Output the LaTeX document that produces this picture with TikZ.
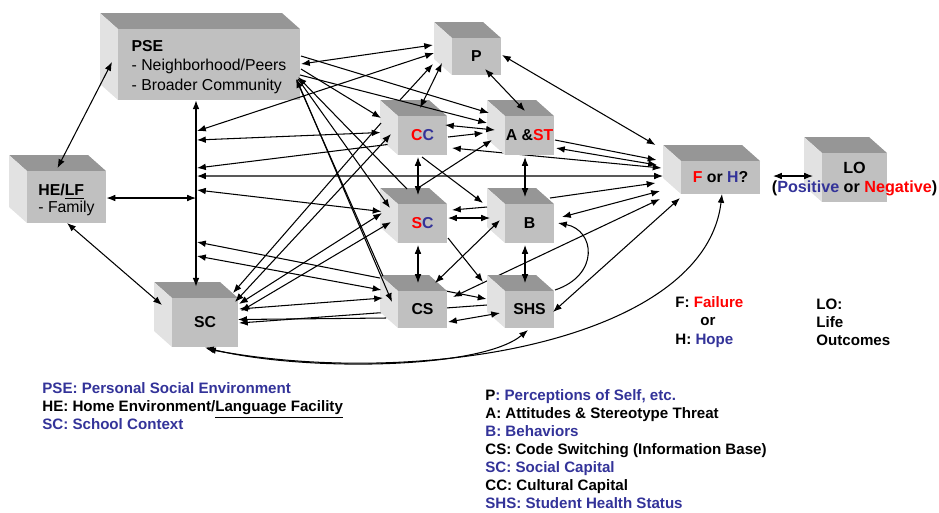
\documentclass[tikz,border=0pt]{standalone}
\usepackage{fontspec}
\setmainfont{Liberation Sans}
\usepackage{xcolor}
\definecolor{keyblue}{HTML}{333399}
\definecolor{keyred}{HTML}{FF0000}
\definecolor{cubetop}{HTML}{969696}
\definecolor{cubeside}{HTML}{E2E2E2}
\definecolor{cubefront}{HTML}{C0C0C0}
\usepackage{tikz}
\usetikzlibrary{arrows.meta,calc,backgrounds}

% faces of a box, drawn inside the node's outline
\newcommand{\cubefaces}{%
  \path (path picture bounding box.north west) coordinate (cnw)
        (path picture bounding box.south east) coordinate (cse);
  \fill[cubetop] (cnw) -- ($(cse |- cnw)+(-0.36cm,0)$) -- ($(cse |- cnw)+(0,-0.32cm)$)
    -- ($(cnw)+(0.36cm,-0.32cm)$) -- cycle;
  \fill[cubeside] (cnw) -- ($(cnw)+(0.36cm,-0.32cm)$) -- ($(cnw |- cse)+(0.36cm,0)$)
    -- ($(cnw |- cse)+(0,0.32cm)$) -- cycle;
  \fill[cubefront] ($(cnw)+(0.36cm,-0.32cm)$) rectangle (cse);}

\begin{document}
\begin{tikzpicture}[x=0.02cm, y=-0.02cm,
  >={Latex[length=5pt,width=3.8pt]},
  cube/.style={inner sep=0pt, path picture={\cubefaces}},
  boxtext/.style={xshift=0.18cm, yshift=-0.16cm, inner sep=0pt,
                  font=\fontsize{9}{11.3}\selectfont\bfseries},
  key/.style={anchor=west, align=left, inner sep=0pt,
              font=\fontsize{8.6}{10.3}\selectfont\bfseries},
  conn/.style={draw, line width=0.6pt, ->}
]
  \useasboundingbox (0,0) rectangle (939,512);

  % boxes
  \node[cube, minimum width=4cm, minimum height=1.74cm,
        label={[boxtext, align=left, yshift=-0.05cm]center:{PSE\\\mdseries - Neighborhood/Peers\\\mdseries - Broader Community}}]
    (pse) at (200,56.5) {};
  \node[cube, minimum width=1.94cm, minimum height=1.36cm,
        label={[boxtext, align=left, yshift=-0.06cm, font=\fontsize{9}{9.8}\selectfont\bfseries]center:{HE/\underline{LF}\\\mdseries - Family}}]
    (he) at (57.5,189) {};
  \node[cube, minimum width=1.34cm, minimum height=1.06cm,
        label={[boxtext]center:P}] (p) at (467.5,48.5) {};
  \node[cube, minimum width=1.34cm, minimum height=1.1cm,
        label={[boxtext]center:{\textcolor{keyred}{C}\textcolor{keyblue}{C}}}] (cc) at (413.5,127.5) {};
  \node[cube, minimum width=1.34cm, minimum height=1.1cm,
        label={[boxtext]center:{A \&\textcolor{keyred}{ST}}}] (ast) at (520.5,127.5) {};
  \node[cube, minimum width=1.34cm, minimum height=1.1cm,
        label={[boxtext]center:{\textcolor{keyred}{S}\textcolor{keyblue}{C}}}] (socc) at (413.5,215.5) {};
  \node[cube, minimum width=1.34cm, minimum height=1.1cm,
        label={[boxtext]center:B}] (beh) at (520.5,215.5) {};
  \node[cube, minimum width=1.34cm, minimum height=1.06cm,
        label={[boxtext]center:CS}] (cs) at (413.5,301.5) {};
  \node[cube, minimum width=1.34cm, minimum height=1.06cm,
        label={[boxtext]center:SHS}] (shs) at (520.5,301.5) {};
  \node[cube, minimum width=1.68cm, minimum height=1.3cm,
        label={[boxtext]center:SC}] (school) at (196,314.5) {};
  \node[cube, minimum width=1.94cm, minimum height=0.98cm,
        label={[boxtext]center:{\textcolor{keyred}{F} or \textcolor{keyblue}{H}?}}] (fh) at (711.5,169.5) {};
  \node[cube, minimum width=1.66cm, minimum height=1.3cm,
        label={[boxtext, align=center, yshift=-0.04cm, font=\fontsize{9.2}{10.8}\selectfont\bfseries]center:{LO\\(\textcolor{keyblue}{Positive} or \textcolor{keyred}{Negative})}}]
    (lo) at (845.5,169.5) {};

  % points on the vertical line
  \coordinate (s0) at (196,198);
  \coordinate (s1) at (197,131);
  \coordinate (s2) at (197,140);
  \coordinate (s3) at (197,168);
  \coordinate (s4) at (197,176);
  \coordinate (s5) at (197,190);
  \coordinate (s6) at (197,242);
  \coordinate (s7) at (197,256);

  % left side
  \draw[conn,<->] ($(he)+(0,-21)$) -- ($(pse)+(-88,5.5)$);
  \draw[conn,<->] ($(he)+(49,9)$) -- (s0);
  \draw[conn,<->] ($(he)+(9.5,34)$) -- ($(school)+(-34,-9.5)$);
  \draw[conn,<->] (school.north |- pse.south) -- ($(school.north)+(0,5)$);
  \draw[conn,<->] (s1) -- ($(p)+(-33.5,4.5)$);
  \draw[conn,<->] (s2) -- ($(cc)+(-33,5)$);
  \draw[conn,<-] (s3) -- ($(cc)+(-26,17)$);
  \draw[conn,<->] (s4) -- ($(fh)+(-48.5,6.5)$);
  \draw[conn,<->] (s5) -- ($(socc)+(-32,-4)$);
  \draw[conn,<->] (s7) -- ($(cs)+(-32,-11.5)$);

  % from PSE
  \draw[conn,<->] ($(pse)+(101,7.5)$) -- ($(p)+(-34.5,-3.5)$);
  \draw[conn] ($(pse)+(101,-0.5)$) -- ($(ast)+(-31.5,-14.5)$);
  \draw[conn] ($(pse)+(101,12.5)$) -- ($(cc)+(-32.5,-9.5)$);
  \draw[conn] ($(pse)+(100,18.5)$) -- ($(ast)+(-33.5,-4.5)$);
  \draw[conn] ($(pse)+(98,22.5)$) -- ($(socc)+(-23.5,-7.5)$);
  \draw[conn] ($(pse)+(97,23.5)$) -- ($(cs)+(-21.5,0.5)$);
  \draw[conn] ($(socc)+(-6.5,-26.5)$) -- ($(pse)+(98,20.5)$);
  \draw[conn] ($(cs)+(-30.5,-25.5)$) -- ($(pse)+(96,22.5)$);

  % CC
  \draw[conn] ($(cc)+(-13.5,-27.5)$) -- ($(p)+(-34.5,15.5)$);
  \draw[conn,<->] ($(cc)+(6.5,-19.5)$) -- ($(p)+(-25.5,14.5)$);
  \draw[conn,<->] ($(cc)+(31.5,-2.5)$) -- ($(ast)+(-25.5,2.5)$);
  \draw[conn] ($(cc)+(34.5,9.5)$) -- ($(ast)+(-37,5.5)$);
  \draw[conn] ($(cc)+(8.5,29.5)$) -- ($(beh)+(-37.5,-12.5)$);
  \draw[conn,<->] ($(cc)+(4.5,29.5)$) -- ($(socc)+(4.5,-20.5)$);
  \draw[conn] ($(cc)+(-32.5,-4.5)$) -- ($(school)+(37,-21.5)$);
  \draw[conn,<->] ($(school)+(39,-12.5)$) -- ($(cc)+(-22.5,6.5)$);

  % SC (social capital)
  \draw[conn] ($(socc)+(4.5,-27.5)$) -- ($(ast)+(-28.5,12.5)$);
  \draw[conn] ($(beh)+(-33.5,-8.5)$) -- ($(socc)+(38.5,-5.5)$);
  \draw[conn,<->] ($(socc)+(34.5,2.5)$) -- ($(beh)+(-30.5,2.5)$);
  \draw[conn] ($(socc)+(34.5,22.5)$) -- ($(shs)+(-37.5,-19.5)$);
  \draw[conn,<->] ($(socc)+(4.5,29.5)$) -- ($(cs)+(4.5,-18.5)$);
  \draw[conn,<->] ($(school)+(43,-10.5)$) -- ($(socc)+(-31.5,-2.5)$);
  \draw[conn,<->] ($(school)+(45,-3.5)$) -- ($(socc)+(-22.5,6.5)$);

  % A&ST, B
  \draw[conn,<->] ($(p)+(17.5,20.5)$) -- ($(ast)+(4.5,-16.5)$);
  \draw[conn,<->] ($(ast)+(4.5,29.5)$) -- ($(beh)+(4.5,-18.5)$);
  \draw[conn,<->] ($(beh)+(4.5,29.5)$) -- ($(shs)+(4.5,-18.5)$);
  \draw[conn,<->] ($(cs)+(21.5,-18.5)$) -- ($(beh)+(-20.5,4.5)$);
  \draw[conn] ($(shs)+(34.5,-11.5)$) .. controls +(45,-15) and +(37,7) .. ($(beh)+(37.5,7.5)$);

  % into F or H
  \draw[conn,<->] ($(p)+(34.5,6.5)$) -- ($(fh)+(-56,-24.5)$);
  \draw[conn] ($(ast)+(34.5,12.5)$) -- ($(fh)+(-55,-9.5)$);
  \draw[conn,<->] ($(ast)+(35.5,20.5)$) -- ($(fh)+(-54.5,-4.5)$);
  \draw[conn] ($(beh)+(29.5,-17.5)$) -- ($(fh)+(-56,13.5)$);
  \draw[conn,<->] ($(beh)+(41.5,1.5)$) -- ($(fh)+(-51.5,21.5)$);
  \draw[conn,<->] ($(shs)+(32.5,10.5)$) -- ($(fh)+(-31.5,28.5)$);
  \draw[conn,<->] ($(fh)+(61.5,6.5)$) -- ($(lo)+(-32.5,6.5)$);

  % CS, SHS, SC (school)
  \draw[conn,<->] ($(school)+(43,-5.5)$) -- ($(cs)+(-30.5,-3.5)$);
  \draw[conn] ($(cs)+(-27.5,16.5)$) -- ($(school)+(42,5)$);
  \draw[conn,<->] ($(cs)+(34.5,20.5)$) -- ($(shs)+(-20.5,11.5)$);
  \draw[conn,<->] ($(school)+(9,33)$) .. controls +(95,24) and +(-48,40) .. ($(shs)+(7.5,28.5)$);
  \draw[conn,<->] ($(school)+(11,34.5)$) .. controls +(215,40) and +(-17,146) .. ($(fh)+(10.5,24.5)$);

  % lines that run behind a box
  \begin{scope}[on background layer]
    \draw[conn,<->] (s6) -- ($(shs)+(-34,-2.5)$);
    \draw[conn,<->] ($(cc)+(38.5,20.5)$) -- ($(fh)+(-50,-1.5)$);
    \draw[conn,<->] ($(cs)+(39.5,-4.5)$) -- ($(fh)+(-51.5,29.5)$);
    \draw[conn] ($(shs)+(-33.5,3.5)$) -- ($(school)+(43,8.5)$);
  \end{scope}

  % keys
  \node[key] (leftkey) at (42,406)
    {\textcolor{keyblue}{PSE: Personal Social Environment}\\
     HE: Home Environment/\underline{Language Facility}\\
     \textcolor{keyblue}{SC: School Context}};
  \node[key] (rightkey) at (485,449)
    {P\textcolor{keyblue}{: Perceptions of Self, etc.}\\
     A: Attitudes \& Stereotype Threat\\
     \textcolor{keyblue}{B: Behaviors}\\
     CS: Code Switching (Information Base)\\
     \textcolor{keyblue}{SC: Social Capital}\\
     CC: Cultural Capital\\
     \textcolor{keyblue}{SHS: Student Health Status}};
  \node[key] (fhkey) at (675,322)
    {F: \textcolor{keyred}{Failure}\\
     \hspace*{0.5cm}or\\
     H: \textcolor{keyblue}{Hope}};
  \node[key] (lokey) at (816,322) {LO:\\Life\\Outcomes};
\end{tikzpicture}
\end{document}
